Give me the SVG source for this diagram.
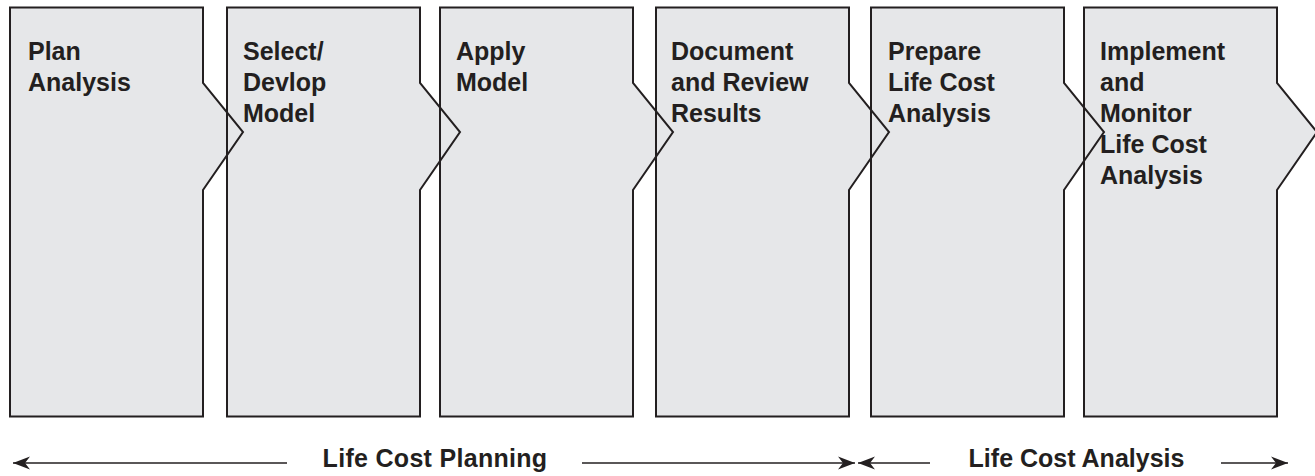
<svg xmlns="http://www.w3.org/2000/svg" xmlns:xlink="http://www.w3.org/1999/xlink" width="1315" height="476" viewBox="0 0 1315 476">
<style>
.fill{fill:#e6e7e9;stroke:none}
.outline{fill:none;stroke:#231f20;stroke-width:2;stroke-linejoin:miter}
.lbl{font-family:"Liberation Sans",Arial,sans-serif;font-weight:bold;font-size:25px;fill:#231f20}
.conn{stroke:#231f20;stroke-width:1.5;fill:none}
</style>
<defs>
<path id="s" d="M0,7.5 H193 V83 L233,132 L193,190 V416.5 H0 Z"/>
<marker id="ah" markerUnits="userSpaceOnUse" viewBox="-18 -7 19 14" refX="0" refY="0" markerWidth="19" markerHeight="14" orient="auto">
<path d="M0,0 L-17,-6.5 L-12,0 L-17,6.5 Z" fill="#231f20"/>
</marker>
</defs>
<g id="fills">
<use xlink:href="#s" href="#s" class="fill" x="10"/>
<use xlink:href="#s" href="#s" class="fill" x="227"/>
<use xlink:href="#s" href="#s" class="fill" x="440"/>
<use xlink:href="#s" href="#s" class="fill" x="656"/>
<use xlink:href="#s" href="#s" class="fill" x="871"/>
<use xlink:href="#s" href="#s" class="fill" x="1084"/>
</g>
<g id="plan-analysis">
<use xlink:href="#s" href="#s" class="outline" x="10"/>
<text class="lbl" x="28" y="60">Plan</text>
<text class="lbl" x="28" y="91">Analysis</text>
</g>
<g id="select-develop-model">
<use xlink:href="#s" href="#s" class="outline" x="227"/>
<text class="lbl" x="243" y="60">Select/</text>
<text class="lbl" x="243" y="91">Devlop</text>
<text class="lbl" x="243" y="122">Model</text>
</g>
<g id="apply-model">
<use xlink:href="#s" href="#s" class="outline" x="440"/>
<text class="lbl" x="456" y="60">Apply</text>
<text class="lbl" x="456" y="91">Model</text>
</g>
<g id="document-review">
<use xlink:href="#s" href="#s" class="outline" x="656"/>
<text class="lbl" x="671" y="60">Document</text>
<text class="lbl" x="671" y="91">and Review</text>
<text class="lbl" x="671" y="122">Results</text>
</g>
<g id="prepare-lca">
<use xlink:href="#s" href="#s" class="outline" x="871"/>
<text class="lbl" x="888" y="60">Prepare</text>
<text class="lbl" x="888" y="91">Life Cost</text>
<text class="lbl" x="888" y="122">Analysis</text>
</g>
<g id="implement-monitor">
<use xlink:href="#s" href="#s" class="outline" x="1084"/>
<text class="lbl" x="1100" y="60">Implement</text>
<text class="lbl" x="1100" y="91">and</text>
<text class="lbl" x="1100" y="122">Monitor</text>
<text class="lbl" x="1100" y="153">Life Cost</text>
<text class="lbl" x="1100" y="184">Analysis</text>
</g>
<g id="connectors">
<line class="conn" x1="287" y1="463" x2="13" y2="463" marker-end="url(#ah)"/>
<line class="conn" x1="582" y1="463" x2="855" y2="463" marker-end="url(#ah)"/>
<line class="conn" x1="930" y1="463" x2="858" y2="463" marker-end="url(#ah)"/>
<line class="conn" x1="1221" y1="463" x2="1288" y2="463" marker-end="url(#ah)"/>
</g>
<g id="phase-labels">
<text class="lbl" x="435" y="467" text-anchor="middle" letter-spacing="0.3">Life Cost Planning</text>
<text class="lbl" x="1076.5" y="467" text-anchor="middle">Life Cost Analysis</text>
</g>
</svg>
